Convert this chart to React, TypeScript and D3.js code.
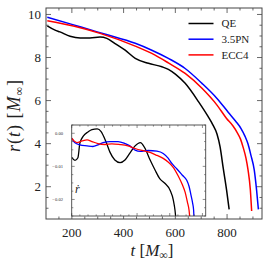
import * as d3 from "d3";

// main panel: r(t)
const qeT = [105, 135, 154, 193, 232, 270, 309, 335, 367, 406, 445, 496, 548, 573, 600, 638, 690, 727, 745, 761, 773, 785, 798, 808];
const qeR = [9.47, 9.27, 9.19, 8.99, 8.91, 8.91, 8.95, 8.89, 8.65, 8.34, 7.96, 7.73, 7.57, 7.45, 7.23, 6.8, 5.94, 5.25, 4.87, 4.45, 3.85, 2.87, 1.85, 0.95];

const pnT = [105, 200, 270, 330, 445, 509, 573, 638, 703, 761, 805, 834, 854, 869, 881, 892, 905, 914, 921];
const pnR = [9.87, 9.54, 9.29, 9.08, 8.66, 8.34, 7.96, 7.49, 6.8, 6.1, 5.45, 5.03, 4.7, 4.35, 3.98, 3.47, 2.78, 1.85, 0.95];

const eccT = [105, 206, 309, 445, 509, 573, 638, 703, 761, 798, 823, 838, 852, 863, 873, 881, 890, 895];
const eccR = [9.71, 9.46, 9.12, 8.53, 8.19, 7.75, 7.26, 6.57, 5.79, 5.17, 4.82, 4.54, 4.21, 3.79, 3.33, 2.78, 1.85, 0.87];

// inset: rdot
const qeInT = [200, 210, 219, 225, 236, 250, 262, 278, 290, 305, 317, 332, 348, 363, 378, 394, 410, 424, 440, 455, 470, 485, 501, 511, 516, 518];
const qeInV = [-0.0073, -0.0082, -0.0074, -0.003, -0.0008, 0.0004, 0.0011, 0.0013, 0.0005, -0.0026, -0.0057, -0.0081, -0.0089, -0.0081, -0.006, -0.0038, -0.0028, -0.0045, -0.0081, -0.0111, -0.0138, -0.0151, -0.0172, -0.0202, -0.0232, -0.0251];

const pnInT = [200, 210, 225, 247, 265, 280, 296, 317, 342, 363, 378, 394, 410, 434, 461, 480, 495, 507, 522, 538, 552, 559, 565, 570, 573, 574];
const pnInV = [-0.0015, -0.0029, -0.0035, -0.0038, -0.004, -0.0035, -0.0028, -0.0025, -0.0025, -0.0031, -0.0038, -0.0051, -0.0055, -0.0052, -0.0054, -0.0061, -0.0075, -0.0092, -0.0108, -0.0126, -0.0142, -0.016, -0.0187, -0.0211, -0.0232, -0.0251];

const eccInT = [200, 207, 216, 232, 247, 262, 280, 302, 323, 347, 372, 394, 415, 440, 461, 480, 495, 510, 526, 538, 547, 554, 559, 561];
const eccInV = [-0.0015, -0.0023, -0.0028, -0.0023, -0.002, -0.0025, -0.0031, -0.0034, -0.0032, -0.0034, -0.0038, -0.0046, -0.0052, -0.0058, -0.0067, -0.0076, -0.0087, -0.0102, -0.0129, -0.0154, -0.0178, -0.0208, -0.0232, -0.0251];

const xTickLabels = [200, 400, 600, 800];
const yTickLabels = [2, 4, 6, 8, 10];
const inYTickLabels = [0, -0.01, -0.02];
const legendNames = ["QE", "3.5PN", "ECC4"];
const colors = ["#000000", "#0000ff", "#ff0000"];

const font = "'Liberation Serif', 'DejaVu Serif', serif";
const frame = "#444";

export default function App() {
  const W = 269;
  const H = 267;

  const x = d3.scaleLinear().domain([100, 935]).range([46, 262]);
  const y = d3.scaleLinear().domain([0.5, 10.3]).range([219, 8]);

  const ix = d3.scaleLinear().domain([200, 610]).range([71.7, 205.7]);
  const iy = d3.scaleLinear().domain([-0.025, 0.0025]).range([216, 125]);

  const line = d3
    .line<[number, number]>()
    .x((d) => x(d[0]))
    .y((d) => y(d[1]))
    .curve(d3.curveMonotoneX);

  const inLine = d3
    .line<[number, number]>()
    .x((d) => ix(d[0]))
    .y((d) => iy(d[1]))
    .curve(d3.curveMonotoneX);

  const zip = (a: number[], b: number[]) => a.map((v, i) => [v, b[i]] as [number, number]);

  const mainSeries = [zip(qeT, qeR), zip(pnT, pnR), zip(eccT, eccR)];
  const inSeries = [zip(qeInT, qeInV), zip(pnInT, pnInV), zip(eccInT, eccInV)];

  const [x0, x1] = x.range();
  const [y0, y1] = y.range();
  const xMinor = d3.range(150, 935, 50);
  const yMinor = d3.range(1, 10.3, 0.5);

  const [ix0, ix1] = ix.range();
  const [iy0, iy1] = iy.range();
  const ixMinor = d3.range(200, 611, 25);
  const ixMajor = d3.range(200, 611, 100);
  const iyMinor = d3.range(-0.025, 0.0026, 0.0025);

  return (
    <svg width={W} height={H} style={{ position: "absolute", left: 0, top: 0 }} fontFamily={font}>
      <rect width={W} height={H} fill="#fff" />

      {/* main curves */}
      <g fill="none" strokeWidth={1.5}>
        {mainSeries.map((s, i) => (
          <path key={i} d={line(s) || ""} stroke={colors[i]} />
        ))}
      </g>

      {/* main ticks */}
      <g stroke={frame} strokeWidth={0.8}>
        {xMinor.map((t) => {
          const len = t % 200 === 0 ? 5 : 2.5;
          return (
            <g key={t}>
              <line x1={x(t)} x2={x(t)} y1={y0} y2={y0 - len} />
              <line x1={x(t)} x2={x(t)} y1={y1} y2={y1 + len} />
            </g>
          );
        })}
        {yMinor.map((r) => {
          const len = Math.abs(r % 2) < 1e-6 ? 5 : 2.5;
          return (
            <g key={r}>
              <line x1={x0} x2={x0 + len} y1={y(r)} y2={y(r)} />
              <line x1={x1} x2={x1 - len} y1={y(r)} y2={y(r)} />
            </g>
          );
        })}
      </g>
      <rect x={x0} y={y1} width={x1 - x0} height={y0 - y1} fill="none" stroke={frame} strokeWidth={1} />

      {/* main tick labels */}
      <g fontSize={13} fill="#222">
        {xTickLabels.map((t) => (
          <text key={t} x={x(t)} y={237} textAnchor="middle">
            {t}
          </text>
        ))}
        {yTickLabels.map((r) => (
          <text key={r} x={41} y={y(r) + 4.5} textAnchor="end">
            {r}
          </text>
        ))}
      </g>

      {/* axis titles */}
      <text x={152} y={256} textAnchor="middle" fontSize={17} fill="#222">
        <tspan fontStyle="italic">t</tspan>
        <tspan> [</tspan>
        <tspan fontStyle="italic">M</tspan>
        <tspan fontSize={12} dy={3}>∞</tspan>
        <tspan dy={-3}>]</tspan>
      </text>
      <text
        transform={`translate(20,${(y0 + y1) / 2 + 2}) rotate(-90)`}
        textAnchor="middle"
        fontSize={18}
        letterSpacing={1}
        fill="#222"
      >
        <tspan fontStyle="italic">r</tspan>
        <tspan>(</tspan>
        <tspan fontStyle="italic">t</tspan>
        <tspan>) [</tspan>
        <tspan fontStyle="italic">M</tspan>
        <tspan fontSize={12} dy={3}>∞</tspan>
        <tspan dy={-3}>]</tspan>
      </text>

      {/* legend */}
      <g fontSize={11} fill="#222">
        {legendNames.map((n, i) => (
          <g key={n} transform={`translate(0,${23.5 + i * 15.7})`}>
            <line x1={188.5} x2={213.5} y1={0} y2={0} stroke={colors[i]} strokeWidth={1.5} />
            <text x={221.5} y={3.8}>
              {n}
            </text>
          </g>
        ))}
      </g>

      {/* inset */}
      <rect x={ix0} y={iy1} width={ix1 - ix0} height={iy0 - iy1} fill="#fff" />
      <defs>
        <clipPath id="insetClip">
          <rect x={ix0} y={iy1} width={ix1 - ix0} height={iy0 - iy1} />
        </clipPath>
      </defs>
      <g fill="none" strokeWidth={1.3} clipPath="url(#insetClip)">
        {inSeries.map((s, i) => (
          <path key={i} d={inLine(s) || ""} stroke={colors[i]} />
        ))}
      </g>
      <g stroke={frame} strokeWidth={0.6}>
        {ixMinor.map((t) => {
          const len = ixMajor.includes(t) ? 3 : 1.6;
          return (
            <g key={t}>
              <line x1={ix(t)} x2={ix(t)} y1={iy0} y2={iy0 - len} />
              <line x1={ix(t)} x2={ix(t)} y1={iy1} y2={iy1 + len} />
            </g>
          );
        })}
        {iyMinor.map((v, k) => {
          const len = k % 4 === 2 ? 3 : 1.6;
          return (
            <g key={k}>
              <line x1={ix0} x2={ix0 + len} y1={iy(v)} y2={iy(v)} />
              <line x1={ix1} x2={ix1 - len} y1={iy(v)} y2={iy(v)} />
            </g>
          );
        })}
      </g>
      <rect x={ix0} y={iy1} width={ix1 - ix0} height={iy0 - iy1} fill="none" stroke={frame} strokeWidth={0.9} />
      <g fontSize={4.6} fill="#333">
        {inYTickLabels.map((v) => (
          <text key={v} x={63} y={iy(v) + 1.6} textAnchor="end">
            {v === 0 ? "0.00" : "\u2212" + Math.abs(v).toFixed(2)}
          </text>
        ))}
      </g>
      <text x={75} y={193} fontSize={12} fontStyle="italic" fill="#222">
        ṙ
      </text>
    </svg>
  );
}
